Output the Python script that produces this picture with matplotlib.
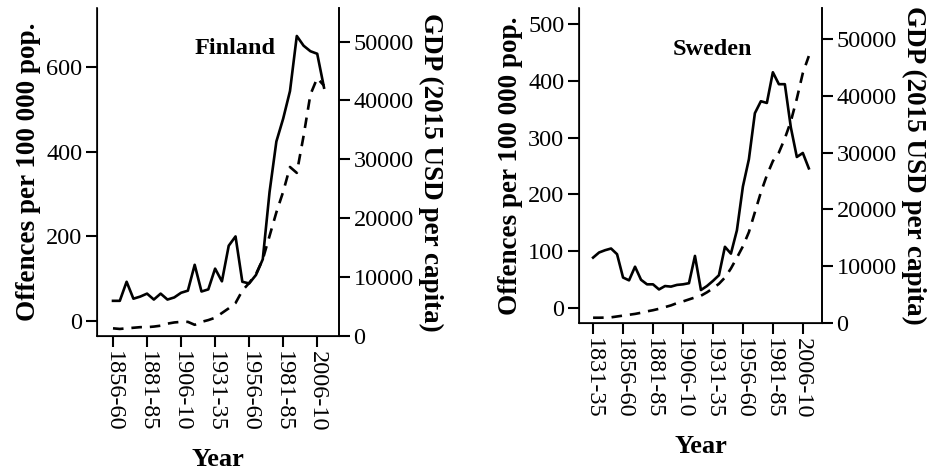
import matplotlib
matplotlib.use("Agg")
import matplotlib.pyplot as plt

plt.rcParams['font.family'] = ['Liberation Serif', 'DejaVu Serif']

# five-year periods, index 0 = first period
fin_ticks = ['1856-60', '1881-85', '1906-10', '1931-35', '1956-60', '1981-85', '2006-10']
swe_ticks = ['1831-35', '1856-60', '1881-85', '1906-10', '1931-35', '1956-60', '1981-85', '2006-10']

# Finland, 1856-60 .. 2011-15
fin_crime = [48, 48, 93, 53, 58, 65, 51, 65, 51, 56, 67, 72, 133, 70, 75, 124,
             94, 178, 200, 93, 89, 109, 146, 305, 424, 478, 543, 673, 650, 637, 631, 551]
fin_gdp = [1300, 1200, 1300, 1400, 1500, 1500, 1600, 1750, 2100, 2300, 2400, 2400,
           1900, 2400, 2700, 3100, 3900, 4700, 5600, 7700, 9000, 10500, 13000, 17000,
           21000, 24500, 28700, 27700, 34000, 41000, 43800, 42500]

# Sweden, 1831-35 .. 2011-15
swe_crime = [89, 98, 102, 105, 95, 54, 49, 73, 50, 42, 42, 33, 39, 38, 41, 42, 44,
             92, 32, 39, 48, 58, 108, 96, 137, 214, 262, 343, 364, 361, 415, 394,
             394, 318, 266, 273, 246]
swe_gdp = [930, 930, 950, 1000, 1150, 1300, 1450, 1600, 1800, 2050, 2250, 2500,
           2800, 3100, 3500, 3800, 4150, 4500, 4800, 5400, 6100, 6900, 8000, 9600,
           11500, 13500, 16000, 19500, 23000, 26000, 28500, 30000, 32500, 35500,
           39500, 44000, 47000]

FS = 17.5
LFS = 19.5


def panel(rect, crime, gdp, ticklabels, title, ylim, yticks, gdp_top, title_xy):
    ax = fig.add_axes(rect)
    x = list(range(len(crime)))
    ax.plot(x, crime, color='black', lw=1.9)
    ax.set_xlim(-2.35, len(crime) + 1.2)
    ax.set_ylim(*ylim)
    ax.set_yticks(yticks)
    ax.set_xticks(list(range(0, 5 * len(ticklabels), 5)))
    ax.set_xticklabels(ticklabels, rotation=-90, fontsize=FS)
    ax.tick_params(axis='both', labelsize=FS, length=8, width=1.5, direction='out', pad=2.5)
    ax.spines['top'].set_visible(False)
    for s in ['left', 'bottom', 'right']:
        ax.spines[s].set_linewidth(1.2)
    ax.set_ylabel('Offences per 100 000 pop.', fontsize=LFS, fontweight='bold', labelpad=4)
    ax.set_xlabel('Year', fontsize=19, fontweight='bold', labelpad=12)
    ax.text(title_xy[0], title_xy[1], title, transform=ax.transAxes, fontsize=FS,
            fontweight='bold', ha='center', va='center')

    ax2 = ax.twinx()
    ax2.plot(x, gdp, color='black', lw=1.9, linestyle=(0, (4, 3)))
    ax2.set_ylim(0, gdp_top)
    ax2.set_yticks([0, 10000, 20000, 30000, 40000, 50000])
    ax2.tick_params(axis='y', labelsize=FS, length=8, width=1.5, direction='out', pad=2.5)
    ax2.spines['top'].set_visible(False)
    ax2.spines['right'].set_linewidth(1.2)
    ax2.set_ylabel('GDP (2015 USD per capita)', fontsize=LFS, fontweight='bold',
                   rotation=-90, labelpad=21)
    return ax, ax2


fig = plt.figure(figsize=(9.35, 4.7), dpi=100)

panel([97 / 935, 1 - 336 / 470, 242 / 935, 328 / 470], fin_crime, fin_gdp, fin_ticks,
      'Finland', (-35, 739), [0, 200, 400, 600], 55700, (0.57, 0.878))
panel([579 / 935, 1 - 323 / 470, 243 / 935, 315 / 470], swe_crime, swe_gdp, swe_ticks,
      'Sweden', (-26, 528), [0, 100, 200, 300, 400, 500], 55460, (0.55, 0.867))

fig.savefig('out.png', dpi=100)
